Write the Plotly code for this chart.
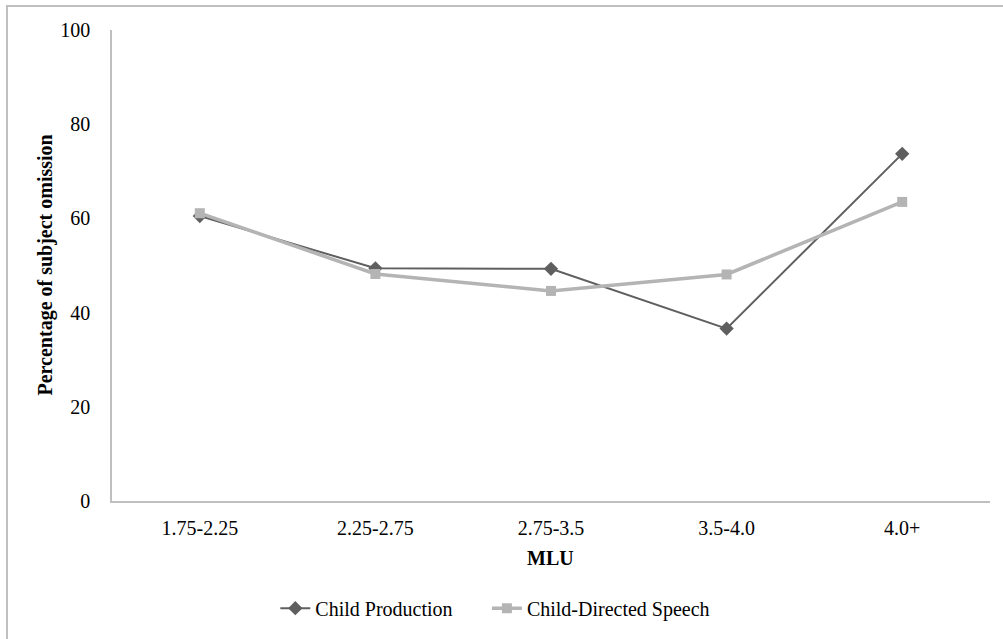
import plotly.graph_objects as go

# MLU bands and subject-omission percentages
mlu_bands = ["1.75-2.25", "2.25-2.75", "2.75-3.5", "3.5-4.0", "4.0+"]
child_production = [60.5, 49.4, 49.3, 36.6, 73.7]
child_directed_speech = [61.1, 48.2, 44.6, 48.1, 63.5]
y_ticks = [0, 20, 40, 60, 80, 100]

FONT = "Liberation Serif, Times New Roman, serif"
AXIS_GRAY = "#bfbfbf"

fig = go.Figure()
fig.add_trace(go.Scatter(
    x=mlu_bands, y=child_production, name="Child Production",
    mode="lines+markers",
    line=dict(color="#5f5f5f", width=2),
    marker=dict(symbol="diamond", size=11, color="#5f5f5f"),
    legend="legend",
))
fig.add_trace(go.Scatter(
    x=mlu_bands, y=child_directed_speech, name="Child-Directed Speech",
    mode="lines+markers",
    line=dict(color="#b4b4b4", width=3.5),
    marker=dict(symbol="square", size=10, color="#b4b4b4"),
    legend="legend2",
))

legend_style = dict(
    orientation="h", xanchor="left", y=-0.225, yanchor="middle",
    font=dict(family=FONT, size=20), bgcolor="rgba(0,0,0,0)",
)

fig.update_layout(
    width=1003, height=639,
    margin=dict(l=112, r=13, t=30, b=137),
    paper_bgcolor="white", plot_bgcolor="white",
    font=dict(family=FONT, size=20, color="#000000"),
    showlegend=True,
    legend=dict(x=0.186, **legend_style),
    legend2=dict(x=0.427, **legend_style),
    xaxis=dict(
        type="category", range=[-0.5, 4.5], showgrid=False, showline=True,
        linecolor=AXIS_GRAY, linewidth=1.5, ticks="",
        tickfont=dict(family=FONT, size=20), ticklabelstandoff=8,
        zeroline=False,
    ),
    yaxis=dict(
        range=[0, 100], tickvals=y_ticks, showgrid=False, showline=True,
        linecolor=AXIS_GRAY, linewidth=1.5, ticks="",
        tickfont=dict(family=FONT, size=20), ticklabelstandoff=16,
        zeroline=False,
    ),
    annotations=[
        dict(text="<b>Percentage of subject omission</b>", textangle=-90,
             xref="paper", yref="paper", x=-0.0763, y=0.5,
             xanchor="center", yanchor="middle", showarrow=False,
             font=dict(family=FONT, size=20)),
        dict(text="<b>MLU</b>", xref="paper", yref="paper", x=0.4989,
             y=-0.1217, xanchor="center", yanchor="middle", showarrow=False,
             font=dict(family=FONT, size=20)),
    ],
    shapes=[
        dict(type="rect", xref="paper", yref="paper",
             x0=-0.1196, x1=1.2, y0=-0.6, y1=1.0508,
             line=dict(color=AXIS_GRAY, width=2), fillcolor="rgba(0,0,0,0)",
             layer="below"),
    ],
)

fig.write_html("out.html")
